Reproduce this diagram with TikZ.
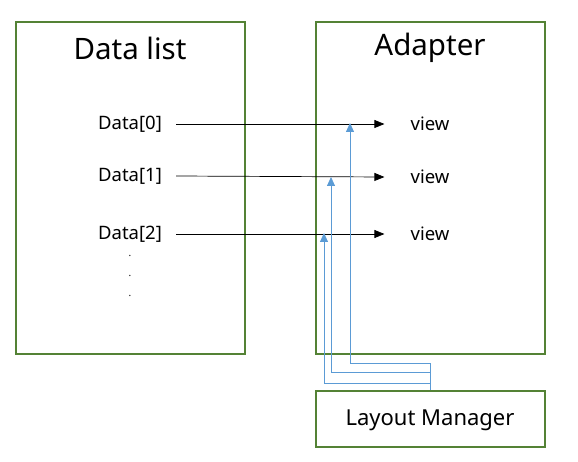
\documentclass[tikz,border=0pt]{standalone}
\usepackage{fontspec}
\setmainfont{Noto Sans}
\usetikzlibrary{arrows.meta}
\definecolor{boxgreen}{RGB}{84,130,53}
\definecolor{lmblue}{RGB}{91,155,213}

\begin{document}
\begin{tikzpicture}[x=1pt,y=-1pt,>={Triangle[length=10pt,width=8pt]},
  panel/.style={draw=boxgreen,line width=2pt,minimum width=229pt,inner sep=0pt},
  item/.style={font=\fontsize{18.5}{22}\selectfont,inner sep=0pt},
  ttl/.style={font=\fontsize{29.5}{34}\selectfont,inner sep=0pt},
  lmarrow/.style={draw=lmblue,line width=0.8pt,->,>={Triangle[length=9pt,width=8pt]},color=lmblue}]
\useasboundingbox (0,0) rectangle (578,462);
\node[panel,minimum height=331pt] (list) at (130.5,188) {};
\node[panel,minimum height=331pt] (adapter) at (430,188) {};
\node[panel,minimum height=56pt] (lm) at (430,418.5) {};
\node[ttl] at (130,48) {Data list};
\node[ttl] at (430,48) {Adapter};
\node[font=\fontsize{22}{26}\selectfont] at (430,420) {Layout Manager};
\node[item] (d0) at (130,124) {Data[0]};
\node[item] (d1) at (130,176) {Data[1]};
\node[item] (d2) at (130,234) {Data[2]};
\node[item] (v0) at (430,124) {view};
\node[item] (v1) at (430,177) {view};
\node[item] (v2) at (430,234) {view};
\foreach \y in {256,276,296} \node[font=\normalsize] at (130,\y) {.};
\draw[->,line width=0.7pt] ([xshift=14pt]d0.east) -- ([xshift=-26pt]v0.west);
\draw[->,line width=0.7pt] ([xshift=14pt]d1.east) -- ([xshift=-26pt]v1.west);
\draw[->,line width=0.7pt] ([xshift=14pt]d2.east) -- ([xshift=-26pt]v2.west);
\coordinate (t0) at (350,123);
\coordinate (t1) at (331,177);
\coordinate (t2) at (324,233);
\draw[lmarrow] (lm.north) -- ++(0,-26) -| (t0);
\draw[lmarrow] (lm.north) -- ++(0,-17) -| (t1);
\draw[lmarrow] (lm.north) -- ++(0,-6) -| (t2);
\end{tikzpicture}
\end{document}
